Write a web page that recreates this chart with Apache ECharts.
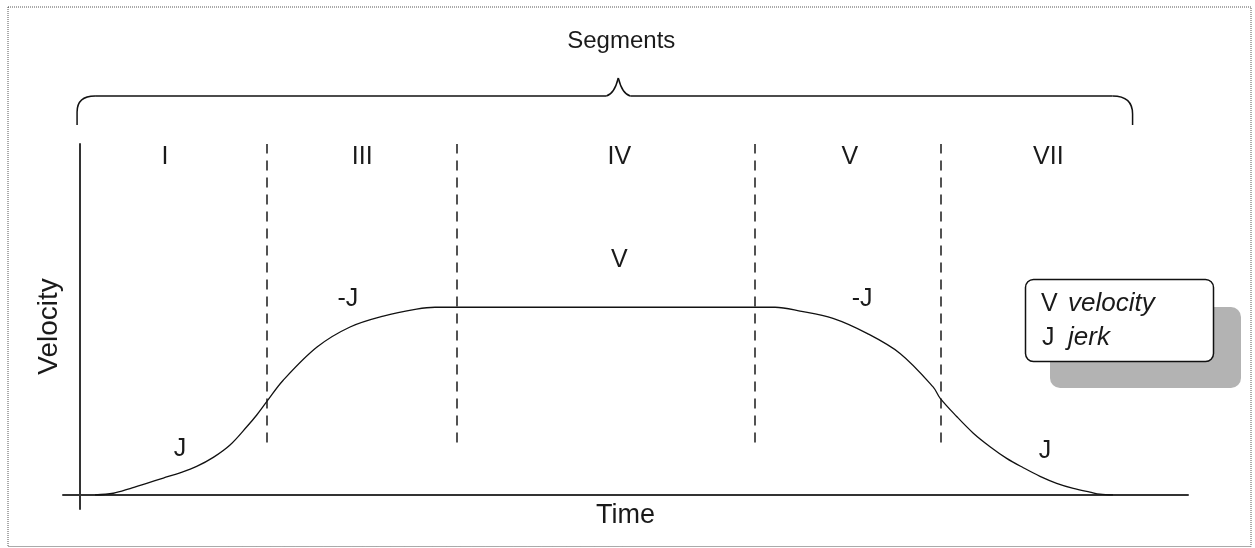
<!DOCTYPE html>
<html>
<head>
<meta charset="utf-8">
<script src="https://cdn.jsdelivr.net/npm/echarts@6/dist/echarts.min.js"></script>
<style>
  html, body { margin: 0; padding: 0; background: #fff; }
  #chart { width: 1255px; height: 548px; }
</style>
</head>
<body>
<div id="chart"></div>
<script>
// velocity profile (time, velocity)
var timePts = [1.39, 3.04, 4.55, 6.05, 7.55, 9.06, 10.56, 12.06, 13.57, 15.08, 15.98, 16.88, 18.35,
               21.42, 24.4, 27.4, 30.4, 32.06,
               62.75, 65.0, 67.97, 71.04, 74.02, 77.0, 77.63, 79.13, 80.63, 82.14, 83.64, 85.14,
               86.65, 88.15, 89.65, 91.16, 92.06, 93.23];
var velPts  = [0, 0.09, 0.34, 0.62, 0.9, 1.18, 1.52, 2.0, 2.66, 3.63, 4.26, 4.97, 6.1,
               7.88, 8.95, 9.53, 9.9, 10,
               10, 9.8, 9.41, 8.61, 7.54, 5.76, 5.16, 4.18, 3.29, 2.57, 1.95, 1.45,
               0.99, 0.62, 0.35, 0.15, 0.04, 0];

// segment boundaries (dashed lines)
var boundaryTimes = [16.9, 34.0, 60.9, 77.7];
var boundaryBottom = 2.8;
var boundaryTop = 18.7;

// segment names
var segmentNames = ['I', 'III', 'IV', 'V', 'VII'];
var segmentTimes = [7.7, 25.5, 48.7, 69.5, 87.4];
var segmentVel = 18.0;

// curve annotations
var annoTexts = ['V', '-J', '-J', 'J', 'J'];
var annoTimes = [48.7, 24.2, 70.6, 9.06, 87.1];
var annoVels  = [12.5, 10.45, 10.45, 2.45, 2.35];

// brace over all segments: start, peak, end
var braceTimes = [-0.23, 48.6, 95.0];

var FONT = '"Liberation Sans", Arial, sans-serif';
var INK = '#1a1a1a';

var curve = timePts.map(function (t, i) { return [t, velPts[i]]; });
var segData = segmentNames.map(function (n, i) { return { name: n, value: [segmentTimes[i], segmentVel] }; });
var annoData = annoTexts.map(function (n, i) { return { name: n, value: [annoTimes[i], annoVels[i]] }; });
var dashData = boundaryTimes.map(function (t) {
    return [{ coord: [t, boundaryBottom] }, { coord: [t, boundaryTop] }];
});

var textLabel = {
    show: true,
    position: 'inside',
    formatter: '{b}',
    color: INK,
    opacity: 1,
    fontFamily: FONT,
    fontSize: 25,
    textBorderWidth: 0,
    textShadowBlur: 0
};

var option = {
    animation: false,
    backgroundColor: '#fff',
    grid: { left: 63, right: 67, top: 144, bottom: 39 },
    xAxis: {
        type: 'value',
        min: -1.5,
        max: 100,
        name: 'Time',
        nameLocation: 'middle',
        nameGap: -7,
        nameTextStyle: { color: INK, fontFamily: FONT, fontSize: 27, verticalAlign: 'top' },
        axisLine: { onZero: true, lineStyle: { color: '#333', width: 2 } },
        axisTick: { show: false },
        axisLabel: { show: false },
        splitLine: { show: false }
    },
    yAxis: {
        type: 'value',
        min: -0.75,
        max: 18.7,
        name: 'Velocity',
        nameLocation: 'middle',
        nameGap: 0,
        nameTextStyle: { color: INK, fontFamily: FONT, fontSize: 28 },
        axisLine: { onZero: true, lineStyle: { color: '#333', width: 2 } },
        axisTick: { show: false },
        axisLabel: { show: false },
        splitLine: { show: false }
    },
    series: [
        {
            type: 'line',
            data: curve,
            smooth: 0.35,
            showSymbol: false,
            lineStyle: { color: '#111', width: 1.3 },
            markLine: {
                silent: true,
                symbol: 'none',
                label: { show: false },
                lineStyle: { color: INK, width: 1.5, type: [10, 7] },
                data: dashData
            }
        },
        {
            type: 'scatter',
            data: segData,
            symbolSize: 1,
            itemStyle: { color: 'rgba(0,0,0,0)', opacity: 1 },
            label: textLabel,
            silent: true
        },
        {
            type: 'scatter',
            data: annoData,
            symbolSize: 1,
            itemStyle: { color: 'rgba(0,0,0,0)', opacity: 1 },
            label: textLabel,
            silent: true
        }
    ]
};

var myChart = echarts.init(document.getElementById('chart'));
myChart.setOption(option);

// brace, border and key drawn as decorations
var bx0 = myChart.convertToPixel({ gridIndex: 0 }, [braceTimes[0], 0])[0];
var bm = myChart.convertToPixel({ gridIndex: 0 }, [braceTimes[1], 0])[0];
var bx1 = myChart.convertToPixel({ gridIndex: 0 }, [braceTimes[2], 0])[0];
var by = 96, bTop = 78, bEnd = 125;
var braceStyle = { fill: 'none', stroke: '#111', lineWidth: 1.5 };

function seg(x1, y1, x2, y2) {
    return { type: 'line', silent: true, shape: { x1: x1, y1: y1, x2: x2, y2: y2 }, style: braceStyle };
}
function curveSeg(x1, y1, cx, cy, x2, y2) {
    return { type: 'bezierCurve', silent: true,
             shape: { x1: x1, y1: y1, cpx1: cx, cpy1: cy, x2: x2, y2: y2 }, style: braceStyle };
}

myChart.setOption({
    graphic: [
        {
            type: 'rect', silent: true, z: 0,
            shape: { x: 8, y: 7, width: 1243, height: 539.5 },
            style: { fill: 'none', stroke: '#555', lineWidth: 1, lineDash: [1, 1] }
        },
        seg(bx0, bEnd, bx0, by + 16),
        curveSeg(bx0, by + 16, bx0, by, bx0 + 18, by),
        seg(bx0 + 18, by, bm - 12, by),
        curveSeg(bm - 12, by, bm - 4, by - 2, bm, bTop),
        curveSeg(bm, bTop, bm + 4, by - 2, bm + 12, by),
        seg(bm + 12, by, bx1 - 20, by),
        curveSeg(bx1 - 20, by, bx1, by, bx1, by + 18),
        seg(bx1, by + 18, bx1, bEnd),
        {
            type: 'text', silent: true,
            x: bm + 3, y: 41,
            style: { text: 'Segments', fill: INK, font: '24px ' + FONT, textAlign: 'center', textVerticalAlign: 'middle' }
        },
        {
            type: 'rect', silent: true,
            shape: { x: 1050, y: 307, width: 191, height: 81, r: 10 },
            style: { fill: '#b3b3b3' }
        },
        {
            type: 'rect', silent: true,
            shape: { x: 1025.5, y: 279.5, width: 188, height: 82, r: 8 },
            style: { fill: '#fff', stroke: '#111', lineWidth: 1.5 }
        },
        {
            type: 'text', silent: true, x: 1041, y: 304,
            style: { text: 'V', fill: INK, font: '25px ' + FONT, textVerticalAlign: 'middle' }
        },
        {
            type: 'text', silent: true, x: 1068, y: 304,
            style: { text: 'velocity', fill: INK, font: 'italic 26px ' + FONT, textVerticalAlign: 'middle' }
        },
        {
            type: 'text', silent: true, x: 1042, y: 338,
            style: { text: 'J', fill: INK, font: '25px ' + FONT, textVerticalAlign: 'middle' }
        },
        {
            type: 'text', silent: true, x: 1068, y: 338,
            style: { text: 'jerk', fill: INK, font: 'italic 26px ' + FONT, textVerticalAlign: 'middle' }
        }
    ]
});
</script>
</body>
</html>
